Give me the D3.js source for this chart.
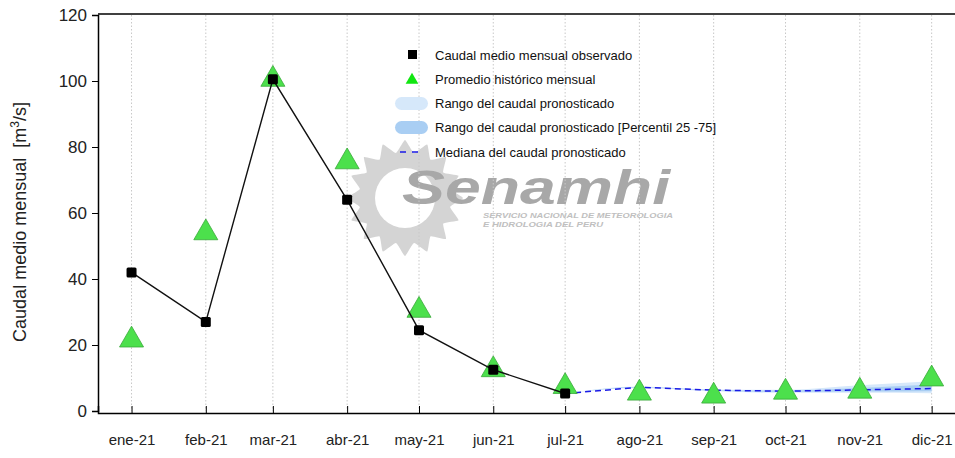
<!DOCTYPE html>
<html>
<head>
<meta charset="utf-8">
<script src="https://cdn.jsdelivr.net/npm/d3@7"></script>
<style>
  body { margin: 0; background: #fff; }
  text { font-family: Arial, "Liberation Sans", sans-serif; }
</style>
</head>
<body>
<script>
// month labels and dates (first of each month, 2021)
const months = ["ene-21", "feb-21", "mar-21", "abr-21", "may-21", "jun-21",
                "jul-21", "ago-21", "sep-21", "oct-21", "nov-21", "dic-21"];
const monthDates = months.map((m, i) => new Date(Date.UTC(2021, i, 1)));

// observed monthly mean flow (ene..jul)
const observed = [42, 27, 100.5, 64, 24.5, 12.5, 5.3];
// historical monthly mean
const historical = [21.5, 54, 100.5, 75.5, 30.5, 12.5, 7.4, 5.4, 4.5, 5.7, 6.0, 9.7];
// forecast median (jul..dic)
const median = [5.3, 7.2, 6.3, 6.0, 6.4, 6.8];
// forecast range (jul..dic)
const rangeLow  = [5.3, 7.0, 6.0, 5.5, 5.5, 5.4];
const rangeHigh = [5.3, 7.4, 6.5, 6.4, 7.8, 9.0];
// forecast range percentil 25-75
const p25 = [5.3, 7.1, 6.2, 5.8, 5.9, 6.0];
const p75 = [5.3, 7.3, 6.4, 6.2, 7.0, 8.0];

const yTicks = [0, 20, 40, 60, 80, 100, 120];

const width = 955, height = 458;
const margin = {top: 15, right: -3, bottom: 47, left: 98};

const svg = d3.select("body").append("svg")
    .attr("width", width)
    .attr("height", height);

const x = d3.scaleUtc()
    .domain([new Date(Date.UTC(2020, 11, 18)), new Date(Date.UTC(2021, 11, 12))])
    .range([margin.left, width - margin.right]);

const y = d3.scaleLinear()
    .domain([0, 120])
    .range([411, 15]);

// watermark (sun + text)
const wm = svg.append("g");
const cx = 405, cy = 198;
let sun = [];
for (let i = 0; i < 32; i++) {
    const r = i % 2 == 0 ? 58 : 46;
    const a = i / 32 * 2 * Math.PI;
    sun.push([cx + r * Math.cos(a), cy + r * Math.sin(a)]);
}
wm.append("path")
    .attr("d", d3.line().curve(d3.curveCardinalClosed.tension(0.6))(sun))
    .attr("fill", "#d4d4d4");
wm.append("circle").attr("cx", cx).attr("cy", cy).attr("r", 30).attr("fill", "#fff");
wm.append("text")
    .attr("x", 402).attr("y", 204)
    .attr("font-size", 48).attr("font-weight", "bold").attr("font-style", "italic")
    .attr("textLength", 268).attr("lengthAdjust", "spacingAndGlyphs")
    .attr("fill", "#a8a8a8")
    .text("Senamhi");
wm.append("text")
    .attr("x", 483).attr("y", 218)
    .attr("font-size", 7.5).attr("font-weight", "bold").attr("font-style", "italic")
    .attr("textLength", 190).attr("lengthAdjust", "spacingAndGlyphs")
    .attr("fill", "#c0c0c0")
    .text("SERVICIO NACIONAL DE METEOROLOGIA");
wm.append("text")
    .attr("x", 483).attr("y", 227)
    .attr("font-size", 7.5).attr("font-weight", "bold").attr("font-style", "italic")
    .attr("textLength", 120).attr("lengthAdjust", "spacingAndGlyphs")
    .attr("fill", "#c0c0c0")
    .text("E HIDROLOGIA DEL PERU");

// vertical dotted gridlines
svg.append("g")
    .selectAll("line")
    .data(monthDates)
    .join("line")
    .attr("x1", d => x(d)).attr("x2", d => x(d))
    .attr("y1", y(120)).attr("y2", y(0))
    .attr("stroke", "#c8c8c8")
    .attr("stroke-width", 1)
    .attr("stroke-dasharray", "1.5,2");

// forecast bands
const fDates = monthDates.slice(6);
const outer = fDates.map((d, i) => ({d: d, lo: rangeLow[i], hi: rangeHigh[i]}));
const inner = fDates.map((d, i) => ({d: d, lo: p25[i], hi: p75[i]}));
const area = d3.area()
    .x(p => x(p.d))
    .y0(p => y(p.lo))
    .y1(p => y(p.hi))
    .curve(d3.curveMonotoneX);
svg.append("path").datum(outer).attr("d", area).attr("fill", "#d6e8fa");
svg.append("path").datum(inner).attr("d", area).attr("fill", "#a9cef3");

// axes
const yAxis = d3.axisLeft(y).tickValues(yTicks).tickSize(6).tickPadding(5);
const gy = svg.append("g")
    .attr("transform", "translate(" + margin.left + ",0)")
    .call(yAxis);
gy.select(".domain").attr("stroke", "#000").attr("stroke-width", 1.5);
gy.selectAll("text").attr("font-size", 17).attr("fill", "#222");

const xAxis = d3.axisBottom(x).tickValues(monthDates)
    .tickSize(-7)
    .tickFormat((d, i) => months[i]);
const gx = svg.append("g")
    .attr("transform", "translate(0,413)")
    .call(xAxis);
gx.select(".domain").attr("stroke", "#000").attr("stroke-width", 1.5);
gx.selectAll("text").attr("font-size", 15).attr("fill", "#222").attr("dy", "1.9em");

// top frame line
svg.append("line")
    .attr("x1", margin.left).attr("x2", width)
    .attr("y1", 14).attr("y2", 14)
    .attr("stroke", "#000").attr("stroke-width", 1.5);

// y axis title
svg.append("text")
    .attr("transform", "translate(26," + 222 + ") rotate(-90)")
    .attr("text-anchor", "middle")
    .attr("font-size", 18)
    .attr("fill", "#222")
    .html('Caudal medio mensual&#160;&#160;[m<tspan dy="-7" font-size="12">3</tspan><tspan dy="7">/s]</tspan>');

// median dashed line
svg.append("path")
    .datum(median)
    .attr("d", d3.line().x((d, i) => x(fDates[i])).y(d => y(d)))
    .attr("fill", "none")
    .attr("stroke", "#1a1ae6")
    .attr("stroke-width", 1.5)
    .attr("stroke-dasharray", "6,4");

// historical triangles
const tri = d3.symbol().type(d3.symbolTriangle).size(250);
svg.append("g")
    .selectAll("path")
    .data(historical)
    .join("path")
    .attr("d", tri)
    .attr("transform", (d, i) => "translate(" + x(monthDates[i]) + "," + y(d) + ")")
    .attr("fill", "#4ce04c")
    .attr("stroke", "#3aa83a")
    .attr("stroke-width", 0.8);

// observed line and squares
svg.append("path")
    .datum(observed)
    .attr("d", d3.line().x((d, i) => x(monthDates[i])).y(d => y(d)))
    .attr("fill", "none")
    .attr("stroke", "#111")
    .attr("stroke-width", 1.4);
svg.append("g")
    .selectAll("rect")
    .data(observed)
    .join("rect")
    .attr("x", (d, i) => x(monthDates[i]) - 5)
    .attr("y", d => y(d) - 5)
    .attr("width", 10).attr("height", 10)
    .attr("rx", 1.5)
    .attr("fill", "#000");

// legend
const lg = svg.append("g");
const lx = 412, ly = [55, 79, 103, 127, 152];
const labels = ["Caudal medio mensual observado", "Promedio histórico mensual",
    "Rango del caudal pronosticado", "Rango del caudal pronosticado [Percentil 25 -75]",
    "Mediana del caudal pronosticado"];
lg.append("rect").attr("x", lx - 4).attr("y", ly[0] - 5).attr("width", 9).attr("height", 9).attr("fill", "#000");
lg.append("path").attr("d", d3.symbol().type(d3.symbolTriangle).size(70))
    .attr("transform", "translate(" + lx + "," + (ly[1] + 1) + ")").attr("fill", "#11e611");
lg.append("rect").attr("x", lx - 17).attr("y", ly[2] - 6).attr("width", 33).attr("height", 13)
    .attr("rx", 6.5).attr("fill", "#d6e8fa");
lg.append("rect").attr("x", lx - 17).attr("y", ly[3] - 6).attr("width", 33).attr("height", 13)
    .attr("rx", 6.5).attr("fill", "#a9cef3");
lg.append("line").attr("x1", lx - 12).attr("x2", lx + 12).attr("y1", ly[4]).attr("y2", ly[4])
    .attr("stroke", "#1a1ae6").attr("stroke-width", 1.5).attr("stroke-dasharray", "6,6");
lg.selectAll("text.lab")
    .data(labels)
    .join("text")
    .attr("class", "lab")
    .attr("x", 435)
    .attr("y", (d, i) => ly[i] + 5)
    .attr("font-size", 13)
    .attr("fill", "#111")
    .text(d => d);
</script>
</body>
</html>
